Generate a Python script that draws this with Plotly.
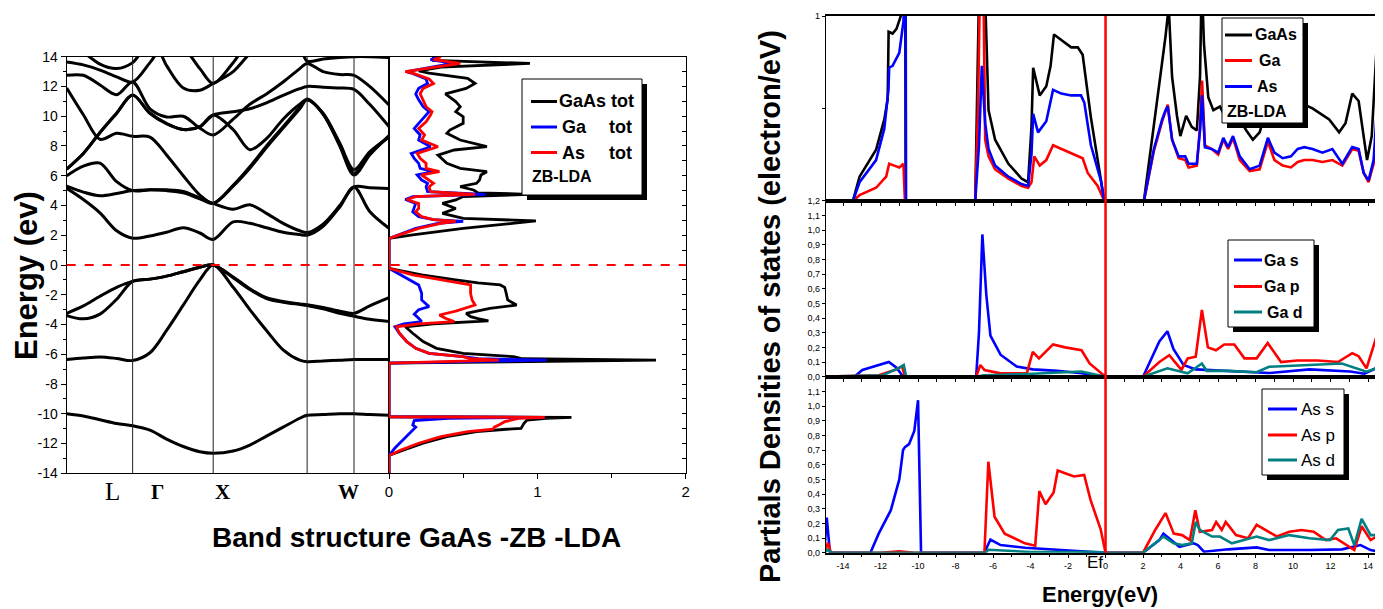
import plotly.graph_objects as go

# ---------------- DATA ----------------
# Band structure: k path coordinate (0..1) and band energies (eV)
K_GRID = [0.0, 0.0517, 0.1033, 0.155, 0.2045, 0.2583, 0.3099, 0.3616, 0.4132, 0.4545,
          0.5165, 0.5682, 0.6198, 0.6715, 0.7231, 0.7459, 0.7955, 0.8471, 0.8915, 0.9401, 1.0]
K_SYM_LINES = [0.2045, 0.4545, 0.746, 0.8915]
K_LABELS = ["L", "Γ", "X", "W"]
K_LABEL_POS = [0.1406, 0.283, 0.482, 0.873]

BAND_1 = [-10.0, -10.15, -10.4, -10.65, -10.8, -11.1, -11.7, -12.2, -12.55, -12.65, -12.5, -12.1, -11.5, -10.9, -10.3, -10.1, -10.05, -10.0, -10.0, -10.05, -10.1]
BAND_2 = [-6.35, -6.25, -6.18, -6.28, -6.42, -5.9, -4.4, -2.7, -1.0, 0.0, -1.5, -3.0, -4.4, -5.7, -6.4, -6.5, -6.45, -6.4, -6.35, -6.35, -6.35]
BAND_3 = [-3.4, -3.62, -3.3, -2.3, -1.1, -0.95, -0.75, -0.45, -0.15, 0.0, -0.8, -1.6, -2.2, -2.45, -2.62, -2.67, -2.85, -3.1, -3.25, -2.75, -2.2]
BAND_4 = [-3.25, -2.75, -2.1, -1.5, -1.1, -0.95, -0.75, -0.45, -0.15, 0.0, -0.85, -1.65, -2.25, -2.5, -2.65, -2.72, -2.95, -3.25, -3.45, -3.65, -3.8]
BAND_5 = [5.15, 4.4, 3.5, 2.3, 1.8, 1.95, 2.2, 2.5, 2.15, 1.72, 2.9, 2.8, 2.5, 2.2, 2.05, 2.0, 2.6, 3.9, 5.25, 3.6, 2.47]
BAND_6 = [5.3, 4.9, 4.65, 4.8, 5.0, 5.05, 5.05, 4.95, 4.5, 4.14, 3.75, 4.05, 3.47, 2.8, 2.3, 2.18, 2.75, 4.0, 5.25, 5.2, 5.15]
BAND_7 = [6.0, 6.65, 6.85, 5.6, 5.0, 5.05, 5.0, 4.85, 4.45, 4.14, 5.3, 6.5, 7.9, 9.2, 10.5, 11.1, 10.15, 8.0, 6.05, 7.4, 8.7]
BAND_8 = [6.45, 7.5, 8.9, 10.2, 11.42, 10.2, 9.5, 9.1, 9.3, 10.08, 9.1, 7.75, 8.5, 9.8, 10.8, 11.1, 10.2, 8.2, 6.4, 7.6, 8.6]
BAND_9 = [11.9, 10.1, 8.45, 8.85, 8.65, 8.6, 7.4, 6.0, 4.7, 4.14, 5.35, 6.6, 8.0, 9.3, 10.6, 11.15, 10.15, 8.1, 6.15, 7.45, 8.65]
BAND_10 = [12.75, 12.75, 12.1, 11.45, 12.3, 10.5, 9.95, 10.0, 9.2, 8.74, 9.8, 10.8, 11.5, 12.3, 13.2, 13.55, 13.0, 12.8, 12.75, 12.0, 10.75]
BAND_11 = [6.45, 7.5, 8.9, 10.2, 11.42, 10.2, 9.5, 9.1, 9.3, 10.08, 10.3, 10.5, 10.9, 11.4, 11.85, 12.0, 11.95, 11.9, 11.8, 10.8, 9.3]
BAND_12 = [15.0, 15.0, 15.0, 15.0, 15.0, 15.5, 13.4, 11.9, 11.75, 12.2, 13.0, 14.2, 15.0, 15.0, 14.6, 13.7, 13.85, 13.95, 14.0, 14.0, 13.95]
BAND_13 = [15.0, 15.0, 15.0, 15.0, 15.0, 15.0, 15.0, 14.6, 13.2, 12.2, 13.6, 15.0, 15.0, 15.0, 15.0, 15.0, 15.0, 15.0, 15.0, 15.0, 15.0]
BAND_14 = [15.0, 14.3, 13.5, 13.2, 13.6, 15.0, 15.0, 15.0, 15.0, 15.0, 15.0, 15.0, 15.0, 15.0, 15.0, 15.0, 15.0, 15.0, 15.0, 15.0, 15.0]
BAND_15 = [13.65, 13.45, 13.1, 12.65, 12.3, 13.6, 15.0, 15.0, 15.0, 15.0, 15.0, 15.0, 15.0, 15.0, 15.0, 15.0, 15.0, 15.0, 15.0, 15.0, 15.0]

# Total DOS (left figure): energy (eV) vs states
DOS_GAAS_E = [-14, -12.8, -12.43, -11.98, -11.54, -11.2, -11.04, -10.98, -10.64, -10.42, -10.3, -10.24, -10.2,
              -6.6, -6.4, -6.3, -6.16, -5.94, -5.6, -5.15, -4.59, -4.15, -3.95, -3.75, -3.6, -3.47, -3.25, -2.91, -2.69,
              -2.5, -2.35, -1.9, -1.5, -1.34, -1.2, -1.0, -0.67, -0.22,
              1.79, 2.02, 2.46, 2.96, 3.14, 3.47, 3.8, 4.14, 4.37, 4.6, 4.75, 4.85, 5.04, 5.26, 5.49, 5.71, 6.05, 6.27,
              6.5, 6.83, 7.39, 7.73, 7.95, 8.4, 8.85, 9.07, 9.52, 9.97, 10.3, 10.64, 10.98, 11.5, 11.87, 12.2, 12.54,
              12.9, 13.04, 13.3, 13.55, 13.75, 14.0]
DOS_GAAS = [0, 0, 0.10, 0.23, 0.39, 0.59, 0.79, 0.89, 0.91, 0.93, 1.06, 1.23, 0,
            0, 1.8, 0.9, 0.84, 0.5, 0.32, 0.23, 0.16, 0.11, 0.3, 0.67, 0.6, 0.55, 0.52, 0.68, 0.86,
            0.82, 0.8, 0.79, 0.78, 0.75, 0.6, 0.45, 0.22, 0.0,
            0, 0.16, 0.5, 0.99, 0.5, 0.36, 0.45, 0.36, 0.45, 0.5, 0.95, 0.6, 0.57, 0.48, 0.59, 0.61, 0.62, 0.66,
            0.48, 0.39, 0.33, 0.44, 0.66, 0.48, 0.39, 0.41, 0.5, 0.5, 0.45, 0.48, 0.45, 0.38, 0.52, 0.58, 0.53,
            0.27, 0.2, 0.35, 0.95, 0.3, 0.3]
DOS_GA_E = [-14, -12.8, -12.3, -11.8, -11.3, -10.9, -10.75, -10.45, -10.3, -10.24, -10.2,
            -6.6, -6.4, -6.3, -6.16, -5.94, -5.6, -5.15, -4.59, -4.15, -3.95, -3.8, -3.58, -3.3, -3.0, -2.8, -2.35,
            -1.9, -1.34, -0.78, -0.22,
            1.79, 2.02, 2.46, 2.8, 2.93, 3.05, 3.25, 3.58, 3.8, 4.14, 4.4, 4.6, 4.75, 4.93, 5.26, 5.49, 5.71, 6.05,
            6.27, 6.5, 6.83, 7.17, 7.5, 7.95, 8.4, 8.74, 9.18, 9.63, 10.08, 10.3, 10.64, 11.1, 11.5, 11.87, 12.2,
            12.5, 12.9, 13.0, 13.55, 13.8, 14.0]
DOS_GA = [0, 0, 0.04, 0.09, 0.14, 0.18, 0.16, 0.17, 0.4, 1.05, 0,
          0, 1.06, 0.6, 0.5, 0.27, 0.18, 0.12, 0.07, 0.04, 0.1, 0.22, 0.2, 0.17, 0.2, 0.27, 0.22,
          0.22, 0.2, 0.1, 0.0,
          0, 0.06, 0.18, 0.33, 0.5, 0.3, 0.2, 0.16, 0.17, 0.18, 0.11, 0.16, 0.65, 0.26, 0.25, 0.26, 0.22, 0.19,
          0.3, 0.21, 0.2, 0.17, 0.15, 0.28, 0.2, 0.21, 0.17, 0.21, 0.25, 0.27, 0.23, 0.2, 0.18, 0.2, 0.26,
          0.25, 0.15, 0.12, 0.43, 0.28, 0.33]
DOS_AS_E = [-14, -12.8, -12.43, -11.98, -11.54, -11.2, -11.04, -10.9, -10.75, -10.53, -10.3, -10.24, -10.2,
            -6.6, -6.4, -6.3, -6.16, -5.94, -5.6, -5.15, -4.59, -4.15, -3.95, -3.8, -3.58, -3.36, -3.1, -2.69, -2.35,
            -1.9, -1.34, -1.1, -0.67, -0.22,
            1.79, 2.02, 2.46, 2.8, 2.93, 3.05, 3.25, 3.58, 3.8, 4.14, 4.4, 4.6, 4.75, 4.93, 5.26, 5.49, 5.71, 6.05,
            6.27, 6.5, 6.83, 7.17, 7.5, 7.95, 8.4, 8.74, 9.18, 9.63, 10.08, 10.3, 10.64, 11.1, 11.5, 11.87, 12.2,
            12.5, 12.9, 13.0, 13.55, 13.8, 14.0]
DOS_AS = [0, 0, 0.08, 0.2, 0.35, 0.53, 0.7, 0.71, 0.74, 0.78, 0.88, 1.05, 0,
          0, 0.74, 0.55, 0.5, 0.27, 0.18, 0.12, 0.07, 0.05, 0.2, 0.44, 0.38, 0.34, 0.45, 0.58, 0.56,
          0.55, 0.55, 0.4, 0.16, 0.0,
          0, 0.07, 0.2, 0.35, 0.45, 0.3, 0.22, 0.18, 0.2, 0.2, 0.12, 0.18, 0.58, 0.28, 0.27, 0.3, 0.27, 0.22,
          0.34, 0.25, 0.25, 0.21, 0.19, 0.33, 0.22, 0.24, 0.2, 0.25, 0.28, 0.29, 0.25, 0.23, 0.21, 0.23, 0.3,
          0.27, 0.16, 0.11, 0.48, 0.3, 0.35]

# Right figure, top panel: total DOS of GaAs, Ga, As
TOP_GAAS_E = [-15, -13.47, -13.12, -12.24, -11.8, -11.62, -11.57, -11.36, -11.15, -10.92, -10.75, -10.68, -10.66,
              -6.95, -6.68, -6.5, -6.42, -6.3, -6.24, -5.89, -5.18, -4.48, -4.13, -3.95, -3.86, -3.51, -3.16, -2.93,
              -2.75, -2.36, -1.83, -1.48, -1.22, -0.78, -0.25, -0.07,
              2.05, 2.58, 2.93, 3.2, 3.37, 3.55, 3.81, 3.99, 4.3, 4.6, 4.87, 5.04, 5.13, 5.25, 5.48, 5.75, 6.1, 6.45,
              6.8, 7.16, 7.51, 7.86, 8.22, 8.48, 8.92, 9.36, 9.8, 10.25, 10.6, 11.04, 11.48, 11.93, 12.46, 12.8,
              13.16, 13.5, 13.95, 14.2, 14.47, 14.8]
TOP_GAAS = [0, 0, 0.13, 0.276, 0.44, 0.55, 0.915, 0.905, 0.93, 1.0, 1.2, 1.2, 0,
            0, 1.5, 1.5, 1.1, 0.6, 0.49, 0.33, 0.2, 0.12, 0.1, 0.4, 0.72, 0.57, 0.62, 0.73,
            0.9, 0.87, 0.83, 0.83, 0.79, 0.45, 0.13, 0,
            0, 0.40, 0.67, 0.89, 1.05, 0.67, 0.46, 0.35, 0.46, 0.40, 0.38, 0.67, 1.2, 0.85, 0.56, 0.49, 0.51, 0.44,
            0.49, 0.44, 0.38, 0.33, 0.37, 0.46, 0.44, 0.41, 0.47, 0.46, 0.52, 0.5, 0.47, 0.44, 0.37, 0.42,
            0.58, 0.54, 0.22, 0.35, 0.85, 1.1]
TOP_GA_E = [-15, -13.47, -13.12, -12.24, -11.7, -11.54, -11.27, -11.0, -10.78, -10.7,
            -6.95, -6.8, -6.65, -6.55, -6.42, -6.24, -5.89, -5.18, -4.48, -4.13, -3.95, -3.8, -3.51, -3.16, -2.8,
            -2.36, -1.66, -1.22, -0.95, -0.42, -0.07,
            2.05, 2.58, 3.02, 3.32, 3.55, 3.9, 4.25, 4.43, 4.87, 5.04, 5.15, 5.3, 5.66, 6.01, 6.28, 6.54, 6.8,
            7.16, 7.69, 8.22, 8.66, 9.01, 9.45, 9.89, 10.25, 10.6, 11.04, 11.57, 12.1, 12.63, 13.16, 13.5, 13.77,
            14.03, 14.3, 14.47, 14.8]
TOP_GA = [0, 0, 0.03, 0.07, 0.13, 0.2, 0.19, 0.18, 0.2, 0,
          0, 0.5, 1.5, 1.5, 0.33, 0.24, 0.17, 0.12, 0.08, 0.07, 0.1, 0.24, 0.19, 0.22, 0.3,
          0.28, 0.25, 0.23, 0.15, 0.08, 0,
          0, 0.27, 0.43, 0.52, 0.33, 0.23, 0.22, 0.18, 0.19, 0.4, 0.65, 0.3, 0.28, 0.25, 0.33, 0.28, 0.34,
          0.22, 0.16, 0.17, 0.32, 0.22, 0.19, 0.18, 0.21, 0.22, 0.22, 0.21, 0.22, 0.19, 0.28, 0.27, 0.15,
          0.1, 0.2, 0.4, 0.5]
TOP_AS_E = [-15, -13.47, -13.12, -12.24, -11.8, -11.58, -11.54, -11.36, -11.0, -10.78, -10.72, -10.66, -10.64,
            -6.95, -6.75, -6.6, -6.42, -6.24, -5.89, -5.18, -4.48, -4.13, -3.95, -3.86, -3.6, -3.16, -2.8, -2.36,
            -1.83, -1.31, -1.13, -0.78, -0.25, -0.07,
            2.05, 2.58, 3.02, 3.2, 3.32, 3.55, 3.9, 4.25, 4.43, 4.87, 5.04, 5.15, 5.3, 5.66, 6.01, 6.28, 6.54, 6.8,
            7.16, 7.69, 8.22, 8.66, 9.01, 9.45, 9.89, 10.25, 10.6, 11.04, 11.57, 12.1, 12.63, 13.16, 13.5, 13.77,
            14.03, 14.3, 14.47, 14.8]
TOP_AS = [0, 0, 0.1, 0.22, 0.39, 0.6, 0.72, 0.73, 0.8, 0.97, 1.1, 1.1, 0,
          0, 0.3, 0.73, 0.42, 0.28, 0.19, 0.13, 0.09, 0.08, 0.25, 0.47, 0.37, 0.43, 0.6, 0.58,
          0.57, 0.57, 0.53, 0.3, 0.11, 0,
          0, 0.28, 0.44, 0.49, 0.51, 0.33, 0.24, 0.24, 0.2, 0.2, 0.38, 0.57, 0.29, 0.28, 0.26, 0.34, 0.29, 0.35,
          0.24, 0.17, 0.19, 0.34, 0.26, 0.23, 0.24, 0.28, 0.29, 0.28, 0.26, 0.28, 0.2, 0.29, 0.28, 0.15,
          0.11, 0.22, 0.49, 0.55]

# Middle panel: Ga s, p, d partial DOS
GA_S_E = [-15, -13.4, -12.97, -12.1, -11.56, -11.13, -10.8, -6.9, -6.75, -6.57, -6.36, -6.14, -5.6, -4.74, -3.88,
          -2.58, -1.28, 0, 2.0, 2.87, 3.3, 3.62, 4.16, 4.81, 6.55, 8.72, 10.88, 13.05, 13.8, 14.47, 14.8]
GA_S = [0, 0, 0.046, 0.08, 0.1, 0.06, 0, 0, 0.3, 0.97, 0.56, 0.28, 0.15, 0.07, 0.05,
        0.04, 0.023, 0, 0, 0.24, 0.31, 0.19, 0.08, 0.05, 0.038, 0.025, 0.05, 0.035, 0.02, 0.06, 0.06]
GA_P_E = [-15, -12.1, -11.24, -10.85, -10.7, -6.9, -6.68, -6.46, -5.6, -4.2, -3.88, -3.55, -2.8, -2.15, -1.28,
          -0.85, 0, 2.0, 2.87, 3.4, 4.05, 4.38, 4.81, 5.14, 5.46, 5.89, 6.33, 6.87, 7.41, 8.06, 8.65, 9.36, 10.23,
          11.31, 12.4, 13.16, 13.5, 13.92, 14.47, 14.8]
GA_P = [0, 0.01, 0.046, 0.07, 0, 0, 0.08, 0.046, 0.023, 0.023, 0.17, 0.125, 0.22, 0.2, 0.18,
        0.09, 0, 0, 0.1, 0.146, 0.046, 0.125, 0.136, 0.455, 0.2, 0.18, 0.22, 0.22, 0.125, 0.125, 0.23, 0.1, 0.11,
        0.11, 0.1, 0.16, 0.14, 0.057, 0.28, 0.3]
GA_D_E = [-15, -11.88, -11.02, -10.76, -10.63, -6.9, -6.5, -3.88, -1.28, 0, 2.0, 3.3, 4.38, 5.14, 5.4, 6.55,
          8.06, 8.72, 10.88, 12.6, 13.92, 14.47, 14.8]
GA_D = [0, 0.01, 0.06, 0.08, 0, 0, 0.01, 0.02, 0.035, 0, 0, 0.057, 0.023, 0.09, 0.04, 0.04,
        0.03, 0.068, 0.08, 0.09, 0.034, 0.06, 0.06]

# Bottom panel: As s, p, d partial DOS
AS_S_E = [-15, -14.87, -14.7, -12.54, -12.1, -11.45, -11.0, -10.8, -10.7, -10.48, -10.2, -10.0, -9.84, -6.46,
          -6.14, -5.6, -4.3, -3.0, -0.4, 0, 2.0, 2.87, 3.09, 3.5, 3.94, 4.7, 4.92, 5.25, 6.55, 8.06, 8.72, 10.88,
          12.6, 13.6, 14.14, 14.47, 14.8]
AS_S = [0, 0.24, 0.0, 0, 0.13, 0.29, 0.5, 0.7, 0.72, 0.74, 0.83, 1.04, 0, 0,
        0.09, 0.052, 0.034, 0.023, 0.005, 0, 0, 0.086, 0.13, 0.086, 0.04, 0.064, 0.052, 0.007, 0.023, 0.036,
        0.018, 0.018, 0.023, 0.052, 0.018, 0.01, 0.01]
AS_P_E = [-15, -14.8, -14.65, -12.0, -11.0, -10.2, -6.46, -6.25, -5.92, -5.38, -4.3, -3.75, -3.53, -3.2, -2.77,
          -2.55, -2.12, -1.68, -1.14, -0.8, -0.26, 0, 2.0, 2.65, 3.2, 3.64, 4.08, 4.5, 4.79, 5.03, 5.68, 5.9, 6.2,
          6.41, 6.96, 7.6, 8.06, 8.72, 9.14, 9.8, 10.45, 11.1, 11.75, 12.3, 12.95, 13.27, 13.66, 14.14, 14.47, 14.8]
AS_P = [0, 0.068, 0, 0, 0.01, 0, 0, 0.62, 0.245, 0.13, 0.064, 0.048, 0.42, 0.33, 0.41,
        0.56, 0.54, 0.52, 0.53, 0.36, 0.16, 0, 0, 0.155, 0.27, 0.13, 0.12, 0.086, 0.29, 0.143, 0.155, 0.21, 0.155,
        0.21, 0.12, 0.098, 0.19, 0.143, 0.11, 0.143, 0.155, 0.143, 0.086, 0.098, 0.041, 0.018, 0.18, 0.086, 0.11,
        0.11]
AS_D_E = [-15, -14.8, -14.6, -6.4, -6.25, -4.0, -0.4, 0, 2.0, 3.09, 3.64, 4.08, 4.6, 4.81, 5.03, 5.68, 6.1,
          6.74, 8.06, 8.72, 9.8, 10.88, 11.97, 12.4, 12.95, 13.27, 13.66, 14.14, 14.47, 14.8]
AS_D = [0, 0.02, 0, 0, 0.02, 0.005, 0.005, 0, 0, 0.11, 0.064, 0.052, 0.064, 0.21, 0.155, 0.11, 0.11,
        0.064, 0.11, 0.086, 0.12, 0.098, 0.086, 0.155, 0.165, 0.052, 0.23, 0.12, 0.12, 0.12]

BAND_TICKS = list(range(-14, 15, 2))
RIGHT_X_TICKS = list(range(-14, 15, 2))
RIGHT_X_RANGE = [-14.91, 14.8]
PDOS_Y_TICKS = [i / 10 for i in range(0, 13)]

# ---------------- LAYOUT HELPERS ----------------
# The page body adds an 8 px margin, so the figure is sized to fill the window after it.
PAGE_W, PAGE_H, BODY = 1383, 609, 8
W, H = PAGE_W - BODY, PAGE_H - BODY
FONT = "Liberation Sans"
SERIF = "Liberation Serif"
BLACK, RED, BLUE, TEAL = "#000000", "#ff0000", "#0000ff", "#008080"


def px(x):
    return (x - BODY) / W


def py(y):
    return 1 - (y - BODY) / H


fig = go.Figure()

# Band structure
bands = [BAND_1, BAND_2, BAND_3, BAND_4, BAND_5, BAND_6, BAND_7, BAND_8, BAND_9,
         BAND_10, BAND_11, BAND_12, BAND_13, BAND_14, BAND_15]
for i, b in enumerate(bands):
    fig.add_trace(go.Scatter(x=K_GRID, y=b, mode="lines", name=f"band {i+1}",
                             line=dict(color=BLACK, width=3, shape="spline", smoothing=0.9),
                             xaxis="x", yaxis="y", showlegend=False, hoverinfo="skip"))

# Total DOS (left)
for e, v, c, n in [(DOS_GAAS_E, DOS_GAAS, BLACK, "GaAs tot"), (DOS_GA_E, DOS_GA, BLUE, "Ga tot"),
                   (DOS_AS_E, DOS_AS, RED, "As tot")]:
    fig.add_trace(go.Scatter(x=v, y=e, mode="lines", name=n, line=dict(color=c, width=2.8),
                             xaxis="x2", yaxis="y2", showlegend=False))

# Right top
for e, v, c, n in [(TOP_GAAS_E, TOP_GAAS, BLACK, "GaAs"), (TOP_GA_E, TOP_GA, RED, "Ga"),
                   (TOP_AS_E, TOP_AS, BLUE, "As")]:
    fig.add_trace(go.Scatter(x=e, y=v, mode="lines", name=n, line=dict(color=c, width=2.6),
                             xaxis="x3", yaxis="y3", showlegend=False))
# Right middle
for e, v, c, n in [(GA_S_E, GA_S, BLUE, "Ga s"), (GA_P_E, GA_P, RED, "Ga p"), (GA_D_E, GA_D, TEAL, "Ga d")]:
    fig.add_trace(go.Scatter(x=e, y=v, mode="lines", name=n, line=dict(color=c, width=2.6),
                             xaxis="x4", yaxis="y4", showlegend=False))
# Right bottom
for e, v, c, n in [(AS_S_E, AS_S, BLUE, "As s"), (AS_P_E, AS_P, RED, "As p"), (AS_D_E, AS_D, TEAL, "As d")]:
    fig.add_trace(go.Scatter(x=e, y=v, mode="lines", name=n, line=dict(color=c, width=2.6),
                             xaxis="x5", yaxis="y5", showlegend=False))

# Domains (pixel based, page coordinates)
BX = [px(66.7), px(389)]
DX = [px(389), px(685.7)]
LY = [py(473.3), py(56.7)]
RX = [px(826), 1.0]
TOPY = [py(200.7), py(16)]
MIDY = [py(376.7), py(200.7)]
BOTY = [py(552.7), py(376.7)]

common = dict(showgrid=False, zeroline=False, showline=True, linecolor="black", mirror=True,
              automargin=False, tickcolor="black", tickfont=dict(family=FONT, color="black"))


def tf(size):
    return dict(family=FONT, color="black", size=size)


fig.update_layout(
    xaxis=dict(domain=BX, anchor="y", range=[0, 1], showticklabels=False, ticks="", linewidth=1, **common),
    yaxis=dict(domain=LY, anchor="x", range=[-14, 14], tickvals=BAND_TICKS,
               ticktext=[str(t) for t in BAND_TICKS], ticks="outside", ticklen=5, linewidth=1.2,
               minor=dict(ticks="outside", ticklen=3, dtick=1, tick0=0, tickcolor="black"),
               **{**common, "tickfont": tf(14)}),
    xaxis2=dict(domain=DX, anchor="y2", range=[0, 2], tickvals=[0, 1, 2], ticktext=["0", "1", "2"],
                ticks="outside", ticklen=5, linewidth=1.2,
                minor=dict(ticks="outside", ticklen=4, dtick=0.5, tick0=0, tickcolor="black"),
                **{**common, "tickfont": tf(15)}),
    yaxis2=dict(domain=LY, anchor="x2", range=[-14, 14], showticklabels=False, side="right",
                ticks="inside", ticklen=4, dtick=1, tick0=0, linewidth=1.2, **common),
    xaxis3=dict(domain=RX, anchor="y3", range=RIGHT_X_RANGE, showticklabels=False, ticks="outside",
                ticklen=3, dtick=1, tick0=0, linewidth=2, **common),
    yaxis3=dict(domain=TOPY, anchor="x3", range=[0, 1], tickvals=[0.5, 1], ticktext=["", "1"],
                ticks="outside", ticklen=3, linewidth=1.2, **{**common, "tickfont": tf(9)}),
    xaxis4=dict(domain=RX, anchor="y4", range=RIGHT_X_RANGE, showticklabels=False, ticks="outside",
                ticklen=3, dtick=1, tick0=0, linewidth=2, **common),
    yaxis4=dict(domain=MIDY, anchor="x4", range=[0, 1.2], tickvals=PDOS_Y_TICKS,
                ticktext=[f"{t:.1f}".replace(".", ",") for t in PDOS_Y_TICKS], ticks="outside", ticklen=3,
                linewidth=1.2, **{**common, "tickfont": tf(9)}),
    xaxis5=dict(domain=RX, anchor="y5", range=RIGHT_X_RANGE, tickvals=RIGHT_X_TICKS,
                ticktext=[str(t) for t in RIGHT_X_TICKS], ticks="outside", ticklen=3, linewidth=2,
                minor=dict(ticks="outside", ticklen=2, dtick=1, tick0=0, tickcolor="black"),
                **{**common, "tickfont": tf(9)}),
    yaxis5=dict(domain=BOTY, anchor="x5", range=[0, 1.2], tickvals=PDOS_Y_TICKS[:-1],
                ticktext=[f"{t:.1f}".replace(".", ",") for t in PDOS_Y_TICKS[:-1]], ticks="outside", ticklen=3,
                linewidth=1.2, **{**common, "tickfont": tf(9)}),
)

shapes = []
# high-symmetry vertical lines
for k in K_SYM_LINES:
    shapes.append(dict(type="line", xref="x", yref="y", x0=k, x1=k, y0=-14, y1=14,
                       line=dict(color="#222222", width=1)))
# Fermi level (left): dashed red line across band + DOS panels
shapes.append(dict(type="line", xref="paper", yref="y", x0=BX[0], x1=DX[1], y0=0, y1=0,
                   line=dict(color=RED, width=2, dash="dash")))
# Fermi level (right): vertical red line
shapes.append(dict(type="line", xref="x5", yref="paper", x0=0, x1=0, y0=BOTY[0], y1=TOPY[1],
                   line=dict(color=RED, width=2.5)))

annotations = []


def legend_box(x0, y0, x1, y1, off=5):
    shapes.append(dict(type="rect", xref="paper", yref="paper", x0=px(x0 + off), x1=px(x1 + off),
                       y0=py(y1 + off), y1=py(y0 + off), fillcolor="black", line=dict(width=0), layer="above"))
    shapes.append(dict(type="rect", xref="paper", yref="paper", x0=px(x0), x1=px(x1),
                       y0=py(y1), y1=py(y0), fillcolor="white", line=dict(color="black", width=1),
                       layer="above"))


def legend_item(lx0, lx1, y, color, width=3):
    shapes.append(dict(type="line", xref="paper", yref="paper", x0=px(lx0), x1=px(lx1), y0=py(y), y1=py(y),
                       line=dict(color=color, width=width), layer="above"))


def text(x, y, s, size, anchor="left", bold=True, family=FONT, angle=0):
    annotations.append(dict(xref="paper", yref="paper", x=px(x), y=py(y), text=f"<b>{s}</b>" if bold else s,
                            showarrow=False, xanchor=anchor, yanchor="middle", textangle=angle,
                            font=dict(family=family, size=size, color="black")))


# Left DOS legend
legend_box(522, 79, 642, 195)
for yy, c in [(101.5, BLACK), (127, BLUE), (152.5, RED)]:
    legend_item(531, 557, yy, c)
text(557, 101.5, "GaAs tot", 18)
text(560, 127, "Ga", 18)
text(634, 127, "tot", 18, anchor="right")
text(560, 152.5, "As", 18)
text(634, 152.5, "tot", 18, anchor="right")
text(530, 177, "ZB-LDA", 16)

# Right top legend
legend_box(1222, 18, 1303, 123)
for yy, c in [(35, BLACK), (60.5, RED), (86.5, BLUE)]:
    legend_item(1225, 1252, yy, c)
text(1253, 35, "GaAs", 16)
text(1257, 60.5, "Ga", 16)
text(1255, 86.5, "As", 16)
text(1225, 111.5, "ZB-LDA", 16)

# Right middle legend
legend_box(1228, 240, 1314, 327)
for yy, c in [(260, BLUE), (286.5, RED), (312, TEAL)]:
    legend_item(1234, 1262, yy, c)
text(1262, 260, "Ga s", 16)
text(1262, 286.5, "Ga p", 16)
text(1265, 312, "Ga d", 16)

# Right bottom legend
legend_box(1262, 389, 1344, 475)
for yy, c in [(409, BLUE), (435, RED), (460, TEAL)]:
    legend_item(1268, 1297, yy, c)
text(1299, 409, "As s", 17, bold=False)
text(1299, 435, "As p", 17, bold=False)
text(1299, 460, "As d", 17, bold=False)

# k-point labels
for lab, kp in zip(K_LABELS, K_LABEL_POS):
    big = lab == "L"
    annotations.append(dict(xref="x", yref="paper", x=kp, y=py(492), text=lab if big else f"<b>{lab}</b>",
                            showarrow=False, xanchor="center", yanchor="middle",
                            font=dict(family=SERIF, size=25 if big else 21, color="black")))

# Titles
text(26, 276, "Energy (ev)", 31, anchor="center", angle=-90)
text(416, 537, "Band structure GaAs -ZB -LDA", 28, anchor="center")
text(770, 307, "Partials Densities of states (electron/eV)", 29, anchor="center", angle=-90)
text(1100, 594, "Energy(eV)", 22, anchor="center")
text(1095, 562, "Ef", 17, anchor="center", bold=False)

fig.update_layout(shapes=shapes, annotations=annotations, width=W, height=H,
                  margin=dict(l=0, r=0, t=0, b=0), autosize=False,
                  paper_bgcolor="white", plot_bgcolor="white", showlegend=False,
                  font=dict(family=FONT, color="black"))

fig.write_html("out.html")
